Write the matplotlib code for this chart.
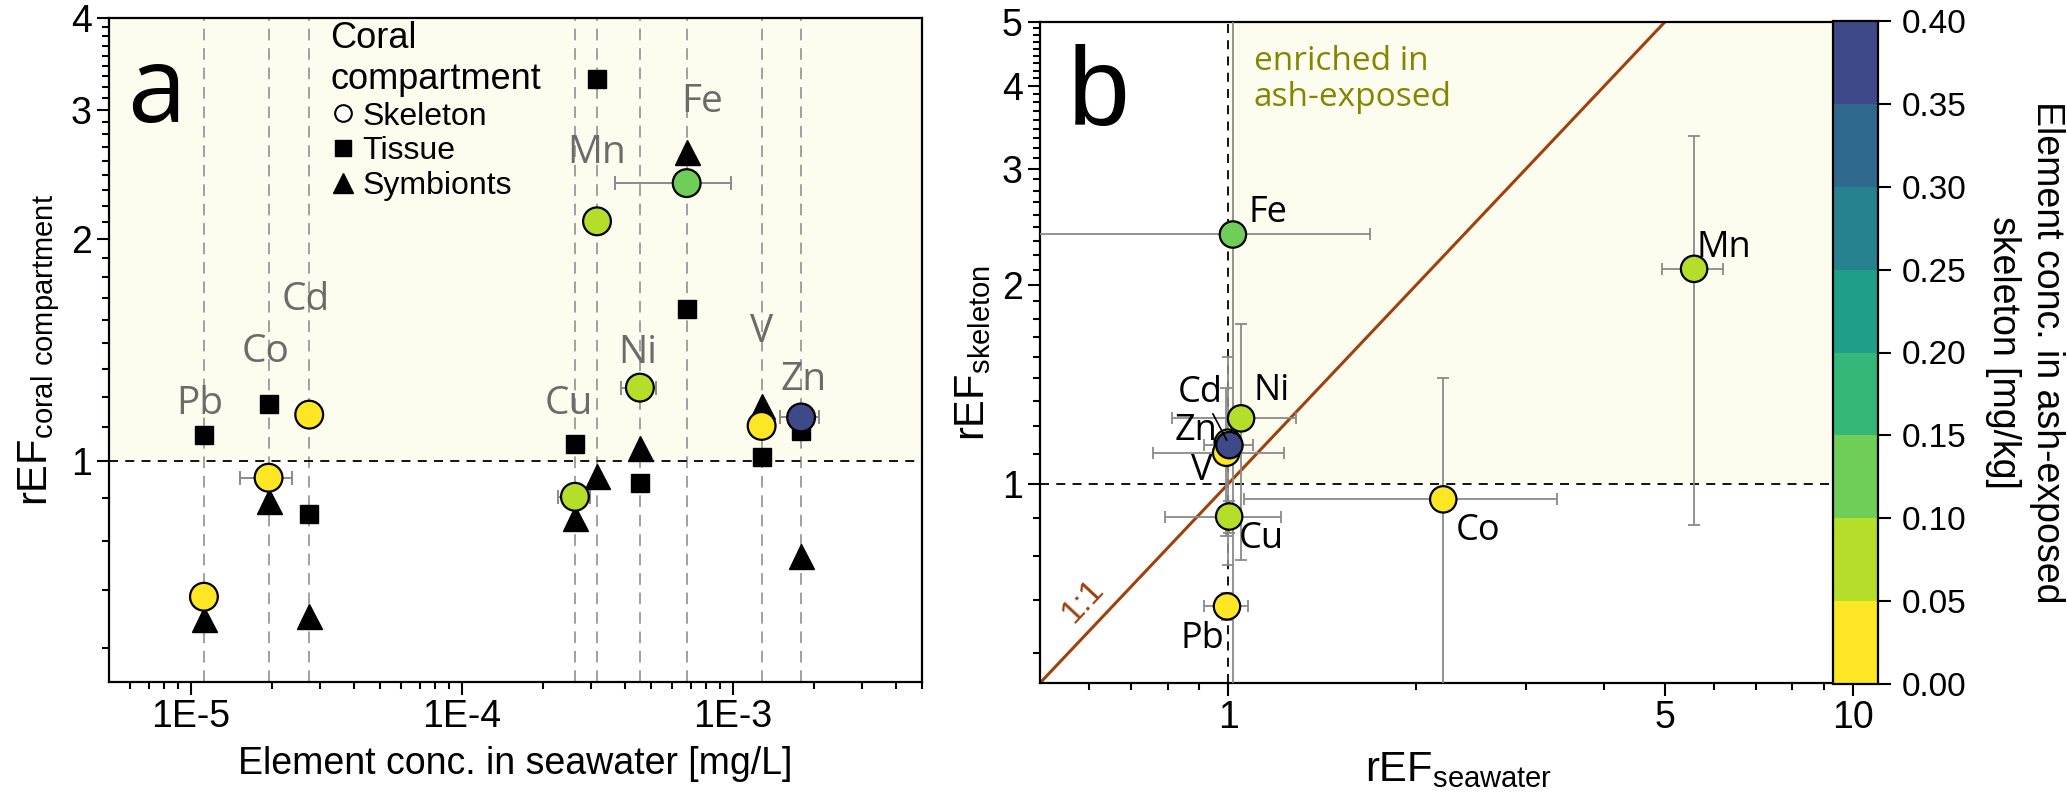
import matplotlib
matplotlib.use('Agg')
import matplotlib.pyplot as plt
import numpy as np
from matplotlib.colors import ListedColormap, BoundaryNorm
from matplotlib.cm import ScalarMappable
from matplotlib.lines import Line2D
from matplotlib.ticker import FixedLocator, FuncFormatter, NullFormatter

plt.rcParams['font.family'] = ['Liberation Sans', 'DejaVu Sans']
plt.rcParams['mathtext.default'] = 'regular'

# data
elements = ['Pb', 'Co', 'Cd', 'Cu', 'Mn', 'Ni', 'Fe', 'V', 'Zn']
seawater_conc = [1.12e-5, 1.94e-5, 2.74e-5, 2.62e-4, 3.16e-4, 4.55e-4, 6.77e-4, 1.28e-3, 1.79e-3]
seawater_conc_err = [0, 0.42e-5, 0, 0.36e-4, 0, 0.68e-4, 3.1e-4, 0, 0.3e-3]
ref_skeleton = [0.653, 0.948, 1.155, 0.893, 2.116, 1.257, 2.385, 1.115, 1.145]
ref_tissue = [1.085, 1.196, 0.847, 1.055, 3.30, 0.933, 1.606, 1.01, 1.099]
ref_symbionts = [0.609, 0.882, 0.615, 0.836, 0.954, 1.04, 2.63, 1.188, 0.742]
skeleton_conc = [0.02, 0.03, 0.01, 0.07, 0.08, 0.09, 0.13, 0.04, 0.38]

ref_seawater = [0.996, 2.21, 1.0, 1.004, 5.57, 1.049, 1.018, 0.993, 1.005]
ref_seawater_err = [0.08, 1.15, 0.05, 0.21, 0.62, 0.235, 0.67, 0.235, 0.09]
ref_skeleton_err = [0.03, 0.5, 0.4, 0.05, 1.25, 0.49, 2.8, 0.28, 0.05]

conc_levels = [0.0, 0.05, 0.10, 0.15, 0.20, 0.25, 0.30, 0.35, 0.40]
level_colors = ['#fde725', '#b5de2b', '#6ece58', '#35b779',
                '#1f9e89', '#26828e', '#31688e', '#3e4989']

# label placement (x, baseline y)
labels_a = {'Pb': (1.08e-5, 1.159), 'Co': (1.89e-5, 1.360), 'Cd': (2.65e-5, 1.601),
            'Cu': (2.49e-4, 1.159), 'Mn': (3.14e-4, 2.539), 'Ni': (4.46e-4, 1.356),
            'Fe': (7.7e-4, 2.979), 'V': (1.28e-3, 1.448), 'Zn': (1.83e-3, 1.246)}
labels_b = {'Pb': (0.985, 0.565, 'right'), 'Co': (2.31, 0.823, 'left'),
            'Cd': (0.98, 1.331, 'right'), 'Cu': (1.04, 0.800, 'left'),
            'Mn': (5.62, 2.205, 'left'), 'Ni': (1.10, 1.340, 'left'),
            'Fe': (1.08, 2.491, 'left'), 'V': (0.945, 1.014, 'right'),
            'Zn': (0.962, 1.166, 'right')}

cmap = ListedColormap(level_colors)
norm = BoundaryNorm(conc_levels, cmap.N)
shade = '#fdfdef'
err_color = '#8a8a8a'

W, H = 2067, 797
fig = plt.figure(figsize=(W / 100, H / 100), dpi=100)


def px_axes(l, r, t, b):
    return fig.add_axes([l / W, 1 - b / H, (r - l) / W, (b - t) / H])


def style_axes(ax):
    for s in ['left', 'bottom', 'top', 'right']:
        ax.spines[s].set_linewidth(1.6)
    ax.tick_params(which='both', direction='out', width=1.5, labelsize=27,
                   top=False, right=False)
    ax.tick_params(which='major', length=9)
    ax.tick_params(which='minor', length=5)


# ---------------- panel a ----------------
ax = px_axes(109, 922, 18, 682)
style_axes(ax)
ax.set_xscale('log')
ax.set_yscale('log')
ax.set_xlim(5e-6, 5e-3)
ax.set_ylim(0.5, 4)
ax.axhspan(1, 4, color=shade, zorder=0, lw=0)
for xv in seawater_conc:
    ax.axvline(xv, color='#a0a0a0', lw=1.4, dashes=(6, 4), zorder=1)
ax.axhline(1, color='black', lw=1.3, dashes=(5, 4), zorder=1)

sx = np.array(seawater_conc)
sy = np.array(ref_skeleton)
se = np.array(seawater_conc_err)
m = se > 0
ax.errorbar(sx[m], sy[m], xerr=se[m], fmt='none', ecolor=err_color,
            elinewidth=1.4, capsize=5, capthick=1.4, zorder=3)
ax.plot(seawater_conc, ref_tissue, 's', color='black', ms=13.5, zorder=4)
ax.plot(seawater_conc, ref_symbionts, '^', color='black', ms=18, zorder=4)
ax.scatter(seawater_conc, ref_skeleton, c=skeleton_conc, cmap=cmap, norm=norm,
           s=20 ** 2, edgecolors='black', linewidths=1.6, zorder=5)

for el in elements:
    x, y = labels_a[el]
    ax.text(x, y, el, family='Open Sans', fontsize=28, color='#6b6b6b',
            ha='center', va='baseline', zorder=6)

ax.xaxis.set_major_locator(FixedLocator([1e-5, 1e-4, 1e-3]))
ax.xaxis.set_major_formatter(FuncFormatter(lambda v, p: '1E%d' % round(np.log10(v))))
ax.xaxis.set_minor_locator(FixedLocator(
    [k * 10.0 ** e for e in (-6, -5, -4, -3) for k in range(2, 10) if 5e-6 <= k * 10.0 ** e <= 5e-3]))
ax.xaxis.set_minor_formatter(NullFormatter())
ax.yaxis.set_major_locator(FixedLocator([1, 2, 3, 4]))
ax.yaxis.set_major_formatter(FuncFormatter(lambda v, p: '%d' % v))
ax.yaxis.set_minor_locator(FixedLocator([k / 9 for k in range(5, 36) if k % 9]))
ax.yaxis.set_minor_formatter(NullFormatter())

ax.set_xlabel('Element conc. in seawater [mg/L]', fontsize=27, labelpad=8)
ax.set_ylabel(r'rEF$_{coral\ compartment}$', fontsize=30, labelpad=6)

handles = [Line2D([], [], marker='o', ls='none', mfc='white', mec='black', mew=1.5, ms=12),
           Line2D([], [], marker='s', ls='none', color='black', ms=12),
           Line2D([], [], marker='^', ls='none', color='black', ms=15)]
leg = ax.legend(handles, ['Skeleton', 'Tissue', 'Symbionts'], title='Coral\ncompartment',
                loc='upper left', bbox_to_anchor=(0.272, 0.995), frameon=False,
                fontsize=23, title_fontproperties={'size': 26}, borderpad=0,
                borderaxespad=0, handlelength=0.8, handletextpad=0.2,
                labelspacing=0.15, alignment='left')
ax.text(0.022, 0.843, 'a', transform=ax.transAxes, family='Open Sans',
        fontsize=76, va='baseline', ha='left')

# ---------------- panel b ----------------
bx = px_axes(1040, 1878, 22, 683)
style_axes(bx)
bx.spines['right'].set_visible(False)
bx.set_xscale('log')
bx.set_yscale('log')
bx.set_xlim(0.5, 10.97)
bx.set_ylim(0.5, 5)
bx.fill_between([1, 10.97], 1, 5, color=shade, lw=0, zorder=0)
bx.axhline(1, color='black', lw=1.3, dashes=(5, 4), zorder=1)
bx.axvline(1, color='black', lw=1.3, dashes=(5, 4), zorder=1)
bx.plot([0.5, 5], [0.5, 5], color='#a0410d', lw=2.2, zorder=2)
bx.text(0.585, 0.665, '1:1', color='#a0410d', fontsize=24, rotation=47,
        ha='center', va='center', zorder=2)

bx.errorbar(ref_seawater, ref_skeleton, xerr=ref_seawater_err, yerr=ref_skeleton_err,
            fmt='none', ecolor=err_color, elinewidth=1.3, capsize=4.5, capthick=1.3,
            zorder=3)
bx.scatter(ref_seawater, ref_skeleton, c=skeleton_conc, cmap=cmap, norm=norm,
           s=19 ** 2, edgecolors='black', linewidths=1.6, zorder=5)

cd = elements.index('Cd')
for el in elements:
    x, y, ha = labels_b[el]
    if el == 'Cd':
        bx.annotate(el, xy=(ref_seawater[cd], ref_skeleton[cd]), xytext=(x, y),
                    family='Open Sans', fontsize=26, ha=ha, va='baseline', zorder=6,
                    arrowprops=dict(arrowstyle='-', lw=1.2, color='black',
                                    relpos=(0.75, 0.0), shrinkA=0, shrinkB=2))
    else:
        bx.text(x, y, el, family='Open Sans', fontsize=26, ha=ha, va='baseline', zorder=6)

bx.text(1.1, 4.62, 'enriched in\nash-exposed', family='Open Sans', fontsize=24,
        color='#858500', ha='left', va='top', linespacing=1.15)
bx.text(0.033, 0.844, 'b', transform=bx.transAxes, fontsize=80, va='baseline', ha='left')

bx.xaxis.set_major_locator(FixedLocator([1, 5, 10]))
bx.xaxis.set_major_formatter(FuncFormatter(lambda v, p: '%d' % v))
bx.xaxis.set_minor_locator(FixedLocator([0.6, 0.7, 0.8, 0.9, 2, 3, 4, 6, 7, 8, 9]))
bx.xaxis.set_minor_formatter(NullFormatter())
bx.yaxis.set_major_locator(FixedLocator([1, 2, 3, 4, 5]))
bx.yaxis.set_major_formatter(FuncFormatter(lambda v, p: '%d' % v))
bx.yaxis.set_minor_locator(FixedLocator([k / 9 for k in range(5, 45) if k % 9]))
bx.yaxis.set_minor_formatter(NullFormatter())
bx.set_xlabel(r'rEF$_{seawater}$', fontsize=30, labelpad=10)
bx.set_ylabel(r'rEF$_{skeleton}$', fontsize=30, labelpad=6)

# ---------------- colorbar ----------------
cax = px_axes(1833, 1878, 21, 684)
cb = fig.colorbar(ScalarMappable(norm=norm, cmap=cmap), cax=cax, ticks=conc_levels)
cb.outline.set_linewidth(1.6)
cax.tick_params(direction='out', length=9, width=1.5, labelsize=24, pad=8)
cax.set_yticklabels(['%.2f' % v for v in conc_levels])
cax.set_ylabel('Element conc. in ash-exposed\nskeleton [mg/kg]', fontsize=27,
               rotation=270, va='center', ha='center', linespacing=1.3)
cax.yaxis.set_label_coords(4.27, 0.5)

fig.savefig('out.png', dpi=100)
